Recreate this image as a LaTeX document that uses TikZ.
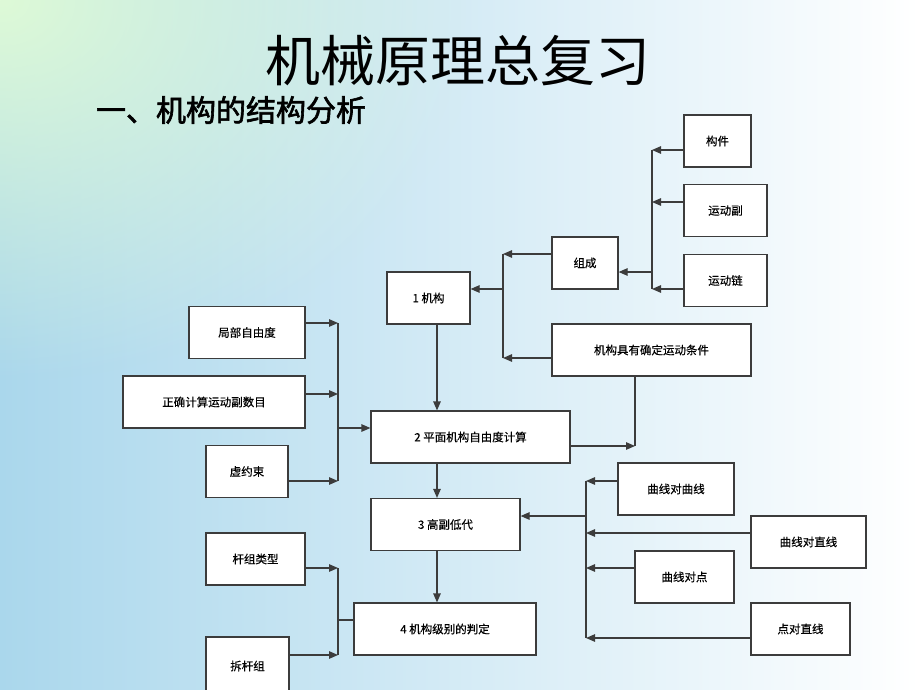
\documentclass[tikz,border=0pt]{standalone}
\usepackage{fontspec}
\newfontfamily\cjk[FakeBold=0.4]{Noto Sans CJK SC}
\newfontfamily\cjkthin{Noto Sans CJK SC}
\newfontfamily\cjkbf[FakeBold=2]{Noto Sans CJK SC}
\usepackage{tikz}
\usetikzlibrary{arrows.meta}
\usetikzlibrary{fadings}
\definecolor{linegray}{RGB}{60,60,60}
\definecolor{bgleft}{RGB}{170,215,236}
\definecolor{bgmid}{RGB}{198,224,248}
\definecolor{bggreen}{RGB}{222,250,215}
\tikzstyle{blk}=[draw=linegray, line width=1.2pt, fill=white, minimum height=52pt, inner sep=0pt, font=\cjk\fontsize{11.5}{13}\selectfont]
\tikzstyle{arr}=[draw=linegray, line width=1.2pt, -{Triangle[length=9pt,width=7.5pt]}]
\tikzstyle{ln}=[draw=linegray, line width=1.2pt]
\tikzfading[name=cornerfade, inner color=transparent!0, outer color=transparent!100]
\newcommand{\kuang}[4]{
 \node[blk, minimum width=#3pt] (#1) at #2 {#4};
}

\begin{document}
\begin{tikzpicture}[x=1pt, y=-1pt]
 \useasboundingbox (0,0) rectangle (920,690);
 \shade[left color=bgleft, middle color=bgmid, right color=white] (0,0) rectangle (920,690);
 \fill[bggreen, path fading=cornerfade] (-480,-380) rectangle (480,380);
%
 \node[font=\cjkthin\fontsize{55}{60}\selectfont] (biaoti) at (458,61) {机械原理总复习};
 \node[font=\cjkbf\fontsize{30}{34}\selectfont] (fenxi) at (231,110) {一、机构的结构分析};
%
 \kuang{goujian}{(717.5,141)}{67}{构件}
 \kuang{yundongfu}{(725.5,210.5)}{83}{运动副}
 \kuang{yundonglian}{(725.5,280.5)}{83}{运动链}
 \kuang{zucheng}{(585,263)}{66}{组成}
 \kuang{jigou}{(428.5,298)}{83}{1 机构}
 \kuang{tiaojian}{(651.5,350)}{199}{机构具有确定运动条件}
%
 \kuang{jubu}{(247,332.5)}{116}{局部自由度}
 \kuang{zhengque}{(214,402)}{182}{正确计算运动副数目}
 \kuang{xuyueshu}{(247,471.5)}{82}{虚约束}
 \kuang{ziyoudu}{(470.5,437)}{199}{2 平面机构自由度计算}
%
 \kuang{gaofu}{(445.5,524.5)}{149}{3 高副低代}
 \kuang{qxqx}{(676,489)}{116}{曲线对曲线}
 \kuang{qxzx}{(808.5,542)}{115}{曲线对直线}
 \kuang{qxd}{(684.5,577)}{99}{曲线对点}
 \kuang{dzx}{(800.5,629)}{99}{点对直线}
%
 \kuang{ganzu}{(255.5,559)}{99}{杆组类型}
 \node[blk, minimum width=83pt, minimum height=58pt] (chai) at (247.5,666) {拆杆组};
 \kuang{jibie}{(445,629)}{182}{4 机构级别的判定}
%
 \coordinate (a0) at (652,272);
 \coordinate (a1) at (652,150);
 \coordinate (a2) at (652,202);
 \coordinate (a3) at (652,289);
 \draw[arr] (goujian.west |- a1) -- (a1);
 \draw[arr] (yundongfu.west |- a2) -- (a2);
 \draw[arr] (yundonglian.west |- a3) -- (a3);
 \draw[ln] (a1) -- (a3);
 \draw[arr] (a0) -- (zucheng.east |- a0);
%
 \coordinate (b0) at (503,289);
 \coordinate (b1) at (503,254);
 \coordinate (b2) at (503,358);
 \draw[arr] (zucheng.west |- b1) -- (b1);
 \draw[arr] (tiaojian.west |- b2) -- (b2);
 \draw[ln] (b1) -- (b2);
 \draw[arr] (b0) -- (jigou.east |- b0);
%
 \coordinate (zhou) at (437,0);
 \draw[arr] (jigou.south -| zhou) -- (ziyoudu.north -| zhou);
 \draw[arr] (ziyoudu.south -| zhou) -- (gaofu.north -| zhou);
 \draw[arr] (gaofu.south -| zhou) -- (jibie.north -| zhou);
%
 \coordinate (cz) at (635,446);
 \draw[ln] (tiaojian.south -| cz) -- (cz);
 \draw[arr] (ziyoudu.east |- cz) -- (cz);
%
 \coordinate (c0) at (338,428);
 \coordinate (c1) at (338,323);
 \coordinate (c2) at (338,394);
 \coordinate (c3) at (338,481);
 \draw[arr] (jubu.east |- c1) -- (c1);
 \draw[arr] (zhengque.east |- c2) -- (c2);
 \draw[arr] (xuyueshu.east |- c3) -- (c3);
 \draw[ln] (c1) -- (c3);
 \draw[arr] (c0) -- (ziyoudu.west |- c0);
%
 \coordinate (d0) at (586,516);
 \coordinate (d1) at (586,481);
 \coordinate (d2) at (586,533);
 \coordinate (d3) at (586,568);
 \coordinate (d4) at (586,638);
 \draw[arr] (qxqx.west |- d1) -- (d1);
 \draw[arr] (qxzx.west |- d2) -- (d2);
 \draw[arr] (qxd.west |- d3) -- (d3);
 \draw[arr] (dzx.west |- d4) -- (d4);
 \draw[ln] (d1) -- (d4);
 \draw[arr] (d0) -- (gaofu.east |- d0);
%
 \coordinate (e0) at (338,620);
 \coordinate (e1) at (338,568);
 \coordinate (e2) at (338,655);
 \draw[arr] (ganzu.east |- e1) -- (e1);
 \draw[arr] (chai.east |- e2) -- (e2);
 \draw[ln] (e1) -- (e2);
 \draw[ln] (e0) -- (jibie.west |- e0);
\end{tikzpicture}
\end{document}
